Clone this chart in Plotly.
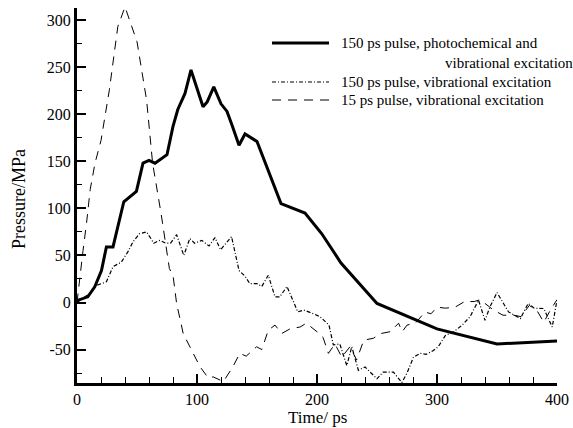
import plotly.graph_objects as go

# ---- data ----
t_photo = [0, 1, 9, 14.8, 20.4, 24.5, 30, 34.2, 39, 49.5, 55, 60, 65, 75, 80, 84, 90, 95,
           105, 108.5, 114, 120, 125, 129, 135, 140, 150, 170, 190, 204, 220, 250, 300, 350, 400]
p_photo = [0, 2.5, 6, 16.6, 34, 59, 59, 82, 107, 118, 148, 151, 148, 157, 187, 205, 222, 247,
           208, 213, 229, 211, 203, 189, 167, 179, 171, 105, 95, 73, 42, -1, -28, -44, -41]

t_vib150 = [0, 10.6, 16, 24.5, 30, 37, 42.5, 46.7, 52, 58, 64, 69, 74, 78, 83, 89, 94, 98,
            104, 110, 115, 119.6, 128.8, 135, 140, 144, 150, 154, 159.4, 165, 169, 175, 184,
            189, 197, 202.5, 210, 213.6, 219, 224.8, 229, 234.5, 240, 250, 255, 263.7, 270.7,
            275, 280.4, 286, 291, 297, 301, 307, 314, 321, 327.6, 334.6, 340, 344, 350, 355.5,
            359.6, 369.5, 376, 381, 389, 396, 400]
p_vib150 = [0, 9.6, 18, 22, 38, 43, 54, 64.5, 73, 75, 63, 66, 63, 63, 72, 50, 68, 63,
            66, 60, 69, 56, 70, 34, 28, 20, 20, 17, 29, 6, 6, 17, -10,
            -8, -12, -15, -24, -45, -44, -67, -47, -72, -68.5, -81, -74, -74, -85,
            -75, -58, -54, -55, -51, -47, -35, -31, -24, -15, 2.5, -19, -5, 10.6, -1,
            -10, -17, -1, -6, -6.4, -26, 2.5]

t_vib15 = [0, 2, 5, 8, 11, 15, 20, 27, 34, 40, 50, 58, 63, 70, 74, 77, 80, 83, 88.5, 95.4,
           102.4, 109.3, 113.5, 122, 130, 135.7, 141, 149.7, 154, 159.4, 165, 170.5, 177.5,
           186, 191, 200, 205, 209.5, 215, 220.6, 227.5, 233, 239, 247, 253, 261, 268, 271,
           275, 282, 290, 295, 300, 307, 315, 323, 331, 336, 347, 355, 364, 370, 377, 384,
           389, 394.5, 400]
p_vib15 = [0, 25, 55, 85, 120, 148, 172, 226, 293, 314, 277, 215, 148, 95, 60, 36, 29, -1, -33, -50,
           -68, -80, -79, -84, -68, -54, -57, -47, -50, -29.5, -24, -33, -28,
           -26, -22, -31, -37, -54, -44, -58, -47, -61, -40, -38, -33, -31, -22, -31,
           -24, -22, -10, -12, -5, -6, -5, 1, 1, 3, -8, -13.5, -13.5, -15, -3, -10,
           -21, -8, 3]

series_names = ["150 ps pulse, photochemical and", "150 ps pulse, vibrational excitation",
                "15 ps pulse, vibrational excitation"]
series_name_line2 = "vibrational excitation"
x_title = "Time/ ps"
y_title = "Pressure/MPa"

x_ticks = [0, 100, 200, 300, 400]
x_tick_labels = ["0", "100", "200", "300", "400"]
y_ticks = [-50, 0, 50, 100, 150, 200, 250, 300]
y_tick_labels = ["-50", "0", "50", "100", "150", "200", "250", "300"]

FONT = "Liberation Serif"
W, H = 573, 428

fig = go.Figure()
fig.add_trace(go.Scatter(x=t_vib15, y=p_vib15, mode="lines", name=series_names[2],
                         line=dict(color="black", width=1, dash="9px,7px")))
fig.add_trace(go.Scatter(x=t_vib150, y=p_vib150, mode="lines", name=series_names[1],
                         line=dict(color="black", width=1.2, dash="4px,2px,1px,2px")))
fig.add_trace(go.Scatter(x=t_photo, y=p_photo, mode="lines", name=series_names[0],
                         line=dict(color="black", width=3)))

# plot area geometry (pixels)
L, R, T, B = 77, 557, 8, 383
def px(x):
    return (x - L) / (R - L)
def py(y):
    return (B - y) / (B - T)

legend_rows = [
    (43, dict(color="black", width=3), series_names[0]),
    (82, dict(color="black", width=1.2, dash="4px,2px,1px,2px"), series_names[1]),
    (100, dict(color="black", width=1, dash="9px,7px"), series_names[2]),
]
for yy, ln, txt in legend_rows:
    fig.add_shape(type="line", xref="paper", yref="paper", x0=px(272), x1=px(329),
                  y0=py(yy), y1=py(yy), line=ln)
    fig.add_annotation(xref="paper", yref="paper", x=px(339), y=py(yy), text=txt,
                       showarrow=False, xanchor="left", yanchor="middle",
                       font=dict(family=FONT, size=15, color="black"))
fig.add_annotation(xref="paper", yref="paper", x=px(443), y=py(63), text=series_name_line2,
                   showarrow=False, xanchor="left", yanchor="middle",
                   font=dict(family=FONT, size=15, color="black"))

# axis titles
fig.add_annotation(xref="paper", yref="paper", x=px(317), y=py(417), text=x_title,
                   showarrow=False, xanchor="center", yanchor="middle",
                   font=dict(family=FONT, size=17, color="black"))
fig.add_annotation(xref="paper", yref="paper", x=px(19), y=py(199), text=y_title,
                   showarrow=False, xanchor="center", yanchor="middle", textangle=-90,
                   font=dict(family=FONT, size=18, color="black"))

fig.update_layout(
    width=W, height=H,
    margin=dict(l=L, r=W - R, t=T, b=H - B, autoexpand=False),
    paper_bgcolor="white", plot_bgcolor="white",
    showlegend=False,
    font=dict(family=FONT, size=16, color="black"),
)
fig.update_xaxes(
    range=[0, 400], showgrid=False, zeroline=False, automargin=False,
    showline=True, linecolor="black", linewidth=3,
    tickmode="array", tickvals=x_ticks, ticktext=x_tick_labels,
    ticks="inside", ticklen=9, tickwidth=2, tickcolor="black",
    tickfont=dict(family=FONT, size=16),
    minor=dict(tickmode="linear", tick0=0, dtick=20, ticks="inside", ticklen=6,
               tickwidth=1, tickcolor="black", showgrid=False),
)
fig.update_yaxes(
    range=[-85.5, 312.8], showgrid=False, zeroline=False, automargin=False,
    showline=True, linecolor="black", linewidth=3,
    tickmode="array", tickvals=y_ticks, ticktext=y_tick_labels,
    ticks="inside", ticklen=9, tickwidth=2, tickcolor="black",
    tickfont=dict(family=FONT, size=16),
    minor=dict(tickmode="linear", tick0=-75, dtick=25, ticks="inside", ticklen=5,
               tickwidth=1, tickcolor="black", showgrid=False),
)

fig.write_html(
    "out.html",
    config={"displayModeBar": False},
    post_script="document.body.style.margin='0';document.body.style.overflow='hidden';",
)
